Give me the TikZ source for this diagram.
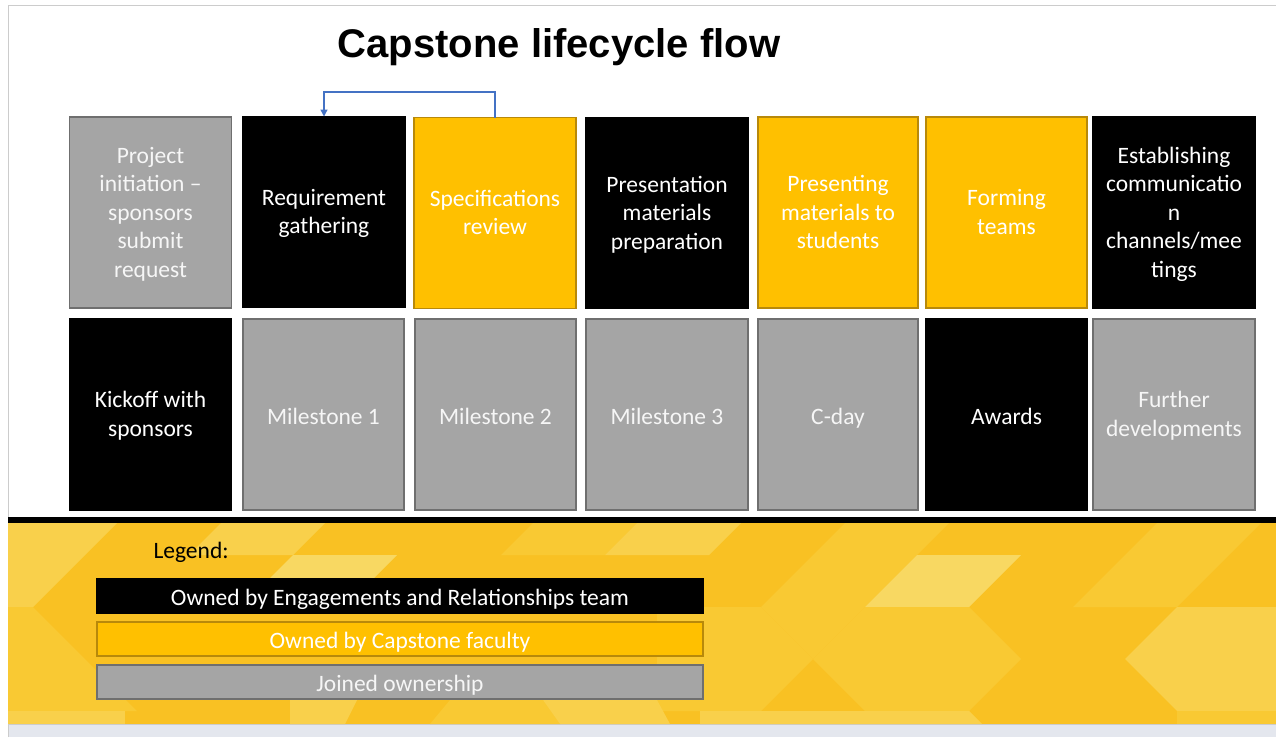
\documentclass[tikz,border=0pt]{standalone}
\usepackage{fontspec}
\setmainfont{Carlito}
\newfontfamily\titlefont{Liberation Sans}
\usetikzlibrary{arrows.meta}
\definecolor{capyellow}{HTML}{FFC000}
\definecolor{capyellowborder}{HTML}{B8890A}
\definecolor{capgray}{HTML}{A5A5A5}
\definecolor{capgrayborder}{HTML}{6F6F6F}
\definecolor{arrowblue}{HTML}{4472C4}
\definecolor{framegray}{HTML}{CCCCCC}
\definecolor{stripgray}{HTML}{E4E7EE}
\definecolor{ybase}{HTML}{F9C123}
\definecolor{ymid}{HTML}{F9C933}
\definecolor{ylight}{HTML}{F9D04B}
\definecolor{yvlight}{HTML}{F8D862}
\newcommand{\boxfont}{\fontsize{23.5}{28.5}\selectfont}
\tikzset{
  box/.style={rectangle, inner sep=0pt, outer sep=0pt, minimum width=162pt, minimum height=191pt,
    text=white, align=center, font=\boxfont, line width=1.2pt, text depth=1pt},
  oneline/.style={text height=20pt, text depth=1pt},
  blkbox/.style={box, fill=black, draw=black},
  ylwbox/.style={box, fill=capyellow, draw=capyellowborder},
  grybox/.style={box, fill=capgray, draw=capgrayborder, text=white!93!gray},
  legbox/.style={rectangle, inner sep=0pt, outer sep=0pt, minimum width=606pt, minimum height=34pt,
    text=white, font=\boxfont, line width=1.2pt, oneline},
}
\begin{document}
\begin{tikzpicture}[x=1pt,y=-1pt]
\useasboundingbox (0,0) rectangle (1276,737);
\fill[white] (0,0) rectangle (1276,737);
% frame
\fill[stripgray] (8,725) rectangle (1276,737);
\draw[framegray, line width=1pt] (8,737) -- (8,5) -- (1276,5);
\draw[framegray, line width=0.8pt] (8,724.5) -- (1276,724.5);
% yellow patterned band
\begin{scope}
\clip (8,522) rectangle (1276,724);
\fill[ybase] (8,522) rectangle (1276,724);
\fill[ylight] (0,503) -- (137,503) -- (33,607) -- (0,607) -- cycle;
\fill[ymid] (0,607) -- (33,607) -- (137,711) -- (0,711) -- cycle;
\fill[ylight] (0,711) rectangle (125,724);
\fill[ylight] (241,503) -- (345,503) -- (293,555) -- (189,555) -- cycle;
\fill[yvlight] (293,555) -- (397,555) -- (345,607) -- (241,607) -- cycle;
\fill[ymid] (553,503) -- (657,503) -- (605,555) -- (501,555) -- cycle;
\fill[ylight] (657,503) -- (761,503) -- (709,555) -- (605,555) -- cycle;
\fill[ymid] (657,607) -- (761,607) -- (813,659) -- (761,711) -- (657,711) -- cycle;
\fill[ylight] (290,700) -- (357,700) -- (345,724) -- (290,724) -- cycle;
\fill[ymid] (450,700) -- (543,700) -- (560,724) -- (430,724) -- cycle;
\fill[ylight] (543,700) -- (657,700) -- (670,724) -- (560,724) -- cycle;
\fill[ymid] (865,503) -- (969,503) -- (917,555) -- (865,607) -- (813,659) -- (761,607) -- cycle;
\fill[yvlight] (917,555) -- (1021,555) -- (969,607) -- (865,607) -- cycle;
\fill[ymid] (865,607) -- (969,607) -- (1021,659) -- (969,711) -- (865,711) -- (813,659) -- cycle;
\fill[ylight] (700,711) -- (969,711) -- (982,724) -- (700,724) -- cycle;
\fill[ymid] (1177,503) -- (1281,503) -- (1177,607) -- (1073,607) -- cycle;
\fill[ylight] (1177,607) -- (1281,607) -- (1281,711) -- (1177,711) -- (1125,659) -- cycle;
\fill[ymid] (1177,711) rectangle (1281,724);
\end{scope}
\fill[black] (8,517) rectangle (1276,523);
% title
\node[anchor=base, font=\titlefont\bfseries\fontsize{40}{48}\selectfont] (title) at (559,57) {Capstone lifecycle flow};
% row 1
\node[grybox] (p1) at (150.5,212.5) {Project\\initiation –\\sponsors\\submit\\request};
\node[blkbox] (p2) at (324,212) {Requirement\\gathering};
\node[ylwbox] (p3) at (495,213) {Specifications\\review};
\node[blkbox] (p4) at (667,213) {Presentation\\materials\\preparation};
\node[ylwbox, minimum width=160pt] (p5) at (838,212.5) {Presenting\\materials to\\students};
\node[ylwbox, minimum width=161pt] (p6) at (1006.5,212.5) {Forming\\teams};
\node[blkbox] (p7) at (1174,212.5) {Establishing\\communicatio\\n\\channels/mee\\tings};
% row 2
\node[blkbox, minimum width=161pt] (q1) at (150.5,414.5) {Kickoff with\\sponsors};
\node[grybox, oneline, minimum width=161pt] (q2) at (323.5,414.5) {Milestone 1};
\node[grybox, oneline, minimum width=161pt] (q3) at (495.5,414.5) {Milestone 2};
\node[grybox, oneline] (q4) at (667,414.5) {Milestone 3};
\node[grybox, oneline, minimum width=160pt] (q5) at (838,414.5) {C-day};
\node[blkbox, oneline, minimum width=161pt] (q6) at (1006.5,414.5) {Awards};
\node[grybox] (q7) at (1174,414.5) {Further\\developments};
% feedback arrow
\coordinate (bend) at (p3.north |- 0,92);
\draw[arrowblue, line width=1.3pt, -{Triangle[length=7pt,width=7pt]}]
  (p3.north) -- (bend) -- (p2.north |- bend) -- (p2.north);
% legend
\node[anchor=base west, font=\boxfont] (legtitle) at (150,558) {Legend:};
\node[legbox, fill=black, draw=black] (l1) at (400,596) {Owned by Engagements and Relationships team};
\node[legbox, fill=capyellow, draw=capyellowborder] (l2) at (400,639) {Owned by Capstone faculty};
\node[legbox, fill=capgray, draw=capgrayborder, text=white!93!gray] (l3) at (400,682) {Joined ownership};
\end{tikzpicture}
\end{document}
